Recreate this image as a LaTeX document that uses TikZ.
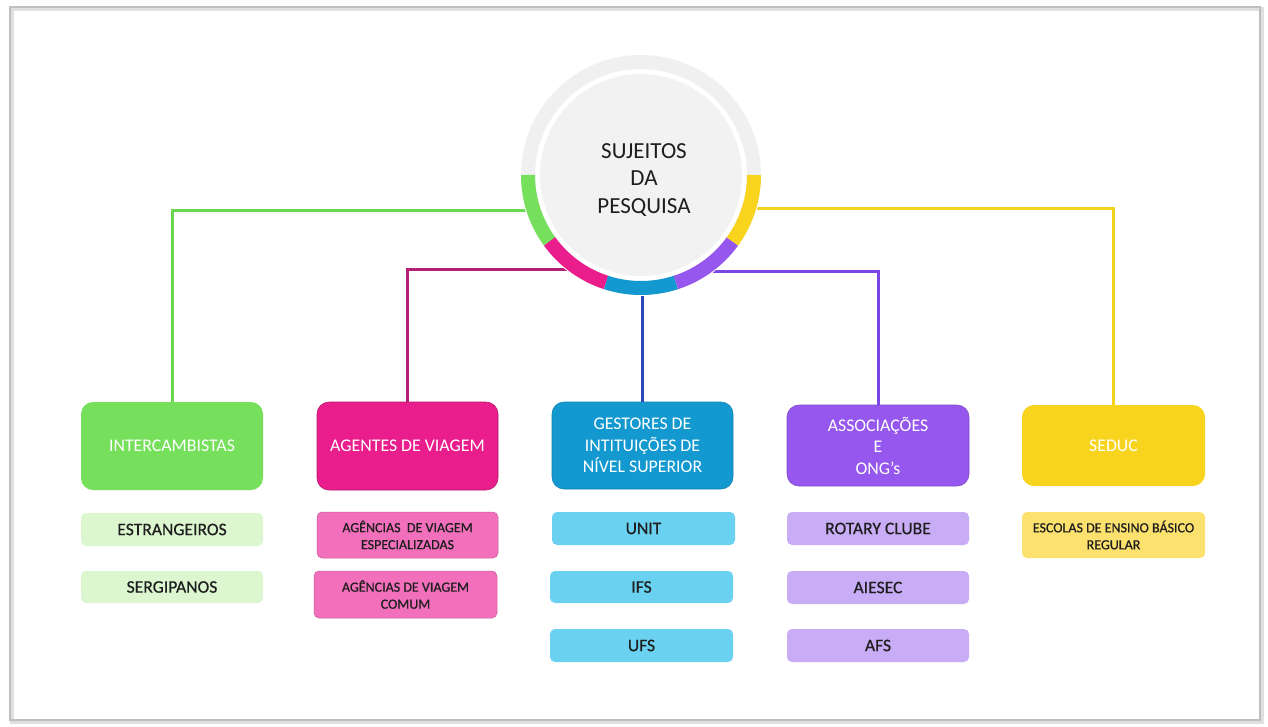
\documentclass[tikz,border=0pt]{standalone}
\usepackage{fontspec}
\setmainfont{Carlito}
\newfontfamily\subfont[FakeBold=0.6]{Carlito}
\definecolor{cGreen}{HTML}{76E05C}
\definecolor{cPink}{HTML}{E91E8C}
\definecolor{cBlue}{HTML}{1399CF}
\definecolor{cPurple}{HTML}{9657EE}
\definecolor{cYellow}{HTML}{F9D41E}
\definecolor{sGreen}{HTML}{DCF7D0}
\definecolor{sPink}{HTML}{F16FBB}
\definecolor{sBlue}{HTML}{6BD1F0}
\definecolor{sPurple}{HTML}{C8ADF6}
\definecolor{sYellow}{HTML}{FCE16F}
\definecolor{lGreen}{HTML}{6BD64F}
\definecolor{lPink}{HTML}{B3207A}
\definecolor{lBlue}{HTML}{2A47B8}
\definecolor{lPurple}{HTML}{7A45E0}
\definecolor{lYellow}{HTML}{F2D21A}
\definecolor{ringGray}{HTML}{F0F0F0}
\definecolor{diskGray}{HTML}{F2F2F2}
\definecolor{txt}{HTML}{1E1E1E}
\tikzset{
  mainbox/.style={rounded corners=12pt, minimum width=182pt, inner sep=0pt, align=center,
     text=white, font=\fontsize{17.8}{21.5}\selectfont},
  subbox/.style={rounded corners=5pt, minimum width=182pt, inner sep=0pt, align=center,
     text=txt, font=\subfont\fontsize{17.6}{20}\selectfont},
  subtwo/.style={subbox, font=\subfont\fontsize{14}{17}\selectfont},
  conn/.style={line width=3pt}
}
\begin{document}
\begin{tikzpicture}[x=1pt,y=1pt]
\useasboundingbox (0,0) rectangle (1268,-726);
\fill[white] (0,0) rectangle (1268,-726);
% frame with shadow
\draw[black!12, line width=4pt] (12,-9) rectangle (1262,-722);
\draw[black!25, line width=1.2pt] (10,-7) rectangle (1260,-720);

% central circle
\node[circle, minimum size=240pt, inner sep=0pt] (circ) at (641,-175) {};
% main boxes
\node[mainbox, fill=cGreen, minimum height=88pt] (b1) at (172,-446) {INTERCAMBISTAS};
\node[mainbox, fill=cPink, draw=cPink!80!black, line width=0.6pt, minimum height=88pt, minimum width=181pt] (b2) at (407.5,-446) {AGENTES DE VIAGEM};
\node[mainbox, fill=cBlue, draw=cBlue!85!black, line width=0.6pt, minimum height=87pt, minimum width=181pt] (b3) at (642.5,-445.5) {GESTORES DE\\INTITUIÇÕES DE\\NÍVEL SUPERIOR};
\node[mainbox, fill=cPurple, draw=cPurple!85!black, line width=0.6pt, minimum height=81pt] (b4) at (878,-445.5) {ASSOCIAÇÕES\\E\\ONG’s};
\node[mainbox, fill=cYellow, minimum height=81pt, minimum width=183pt] (b5) at (1113.5,-445.5) {SEDUC};

% connectors (behind ring)
\draw[conn, lGreen] (circ.197) -| (b1.north);
\draw[conn, lPink] (circ.232.3) -| (b2.north);
\draw[conn, lBlue] (b3.north) -- (b3.north |- circ.270);
\draw[conn, lPurple] (circ.307.7) -| (b4.north);
\draw[conn, lYellow] (circ.344) -| (b5.north);

% ring
\fill[white] (641,-175) circle[radius=121pt];
\draw[ringGray, line width=14pt] (641,-175) circle[radius=113pt];
\draw[cGreen, line width=14pt] (641,-175) ++(180:113pt) arc[start angle=180, end angle=216, radius=113pt];
\draw[cPink, line width=14pt] (641,-175) ++(216:113pt) arc[start angle=216, end angle=252, radius=113pt];
\draw[cBlue, line width=14pt] (641,-175) ++(252:113pt) arc[start angle=252, end angle=288, radius=113pt];
\draw[cPurple, line width=14pt] (641,-175) ++(288:113pt) arc[start angle=288, end angle=324, radius=113pt];
\draw[cYellow, line width=14pt] (641,-175) ++(324:113pt) arc[start angle=324, end angle=360, radius=113pt];
\fill[diskGray] (641,-175) circle[radius=101pt];
\node[align=center, text=txt, font=\fontsize{23}{27.5}\selectfont] (title) at (644,-180) {SUJEITOS\\DA\\PESQUISA};

% sub boxes
\node[subbox, fill=sGreen, minimum height=33pt] (g1) at (172,-529.5) {ESTRANGEIROS};
\node[subbox, fill=sGreen, minimum height=32pt] (g2) at (172,-587) {SERGIPANOS};

\node[subtwo, fill=sPink, draw=sPink!85!black, line width=0.5pt, minimum height=46pt, minimum width=181pt] (p1) at (407.5,-535) {AGÊNCIAS\ \ DE VIAGEM\\ESPECIALIZADAS};
\node[subtwo, fill=sPink, draw=sPink!85!black, line width=0.5pt, minimum height=47pt, minimum width=183pt] (p2) at (405.5,-594.5) {AGÊNCIAS DE VIAGEM\\COMUM};

\node[subbox, fill=sBlue, minimum height=33pt, minimum width=183pt] (u1) at (643.5,-528.5) {UNIT};
\node[subbox, fill=sBlue, minimum height=32pt, minimum width=183pt] (u2) at (641.5,-587) {IFS};
\node[subbox, fill=sBlue, minimum height=33pt, minimum width=183pt] (u3) at (641.5,-645.5) {UFS};

\node[subbox, fill=sPurple, minimum height=33pt] (a1) at (878,-528.5) {ROTARY CLUBE};
\node[subbox, fill=sPurple, minimum height=33pt] (a2) at (878,-587.5) {AIESEC};
\node[subbox, fill=sPurple, minimum height=33pt] (a3) at (878,-645.5) {AFS};

\node[subtwo, fill=sYellow, minimum height=46pt, minimum width=183pt] (y1) at (1113.5,-535) {ESCOLAS DE ENSINO BÁSICO\\REGULAR};
\end{tikzpicture}
\end{document}
